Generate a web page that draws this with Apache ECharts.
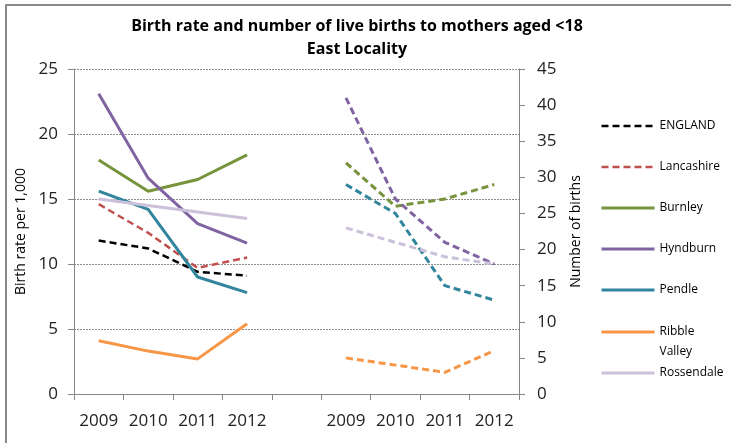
<!DOCTYPE html>
<html>
<head>
<meta charset="utf-8">
<script src="https://cdn.jsdelivr.net/npm/echarts@6/dist/echarts.min.js"></script>
<style>
html,body{margin:0;padding:0;background:#fff;}
#myBirthChart{width:731px;height:443px;}
</style>
</head>
<body>
<div id="myBirthChart"></div>
<script>
// years on each half of the axis
var years = ['2009', '2010', '2011', '2012'];

// birth rate per 1,000 (left axis)
var rateEngland = [11.8, 11.2, 9.4, 9.1];
var rateLancashire = [14.6, 12.4, 9.7, 10.5];
var rateBurnley = [18.0, 15.6, 16.5, 18.4];
var rateHyndburn = [23.1, 16.6, 13.1, 11.6];
var ratePendle = [15.6, 14.2, 9.0, 7.8];
var rateRibble = [4.1, 3.3, 2.7, 5.4];
var rateRossendale = [15.0, 14.5, 14.0, 13.5];

// number of births (right axis)
var birthsBurnley = [32, 26, 27, 29];
var birthsHyndburn = [41, 27, 21, 18];
var birthsPendle = [29, 25, 15, 13];
var birthsRibble = [5, 4, 3, 6];
var birthsRossendale = [23, 21, 19, 18];

var leftTicks = [0, 5, 10, 15, 20, 25];
var rightTicks = [0, 5, 10, 15, 20, 25, 30, 35, 40, 45];

var categories = years.concat(['']).concat(years);

function leftPart(arr){
	return arr.concat([null, null, null, null, null]);
}
function rightPart(arr){
	return [null, null, null, null, null].concat(arr);
}

var fontName = 'Open Sans';

function lineSeries(name, data, color, dashed, axis, width){
	return {
		name: name,
		type: 'line',
		yAxisIndex: axis,
		data: data,
		symbol: 'none',
		silent: true,
		connectNulls: false,
		lineStyle: {
			color: color,
			width: width,
			type: dashed ? [7, 4] : 'solid',
			cap: 'butt'
		},
		itemStyle: {color: color}
	};
}

var myBirthChart = echarts.init(document.getElementById('myBirthChart'));

var legendText = {fontFamily: fontName, fontSize: 12, color: '#000', lineHeight: 14};
// hide the symbol in the legend icon, keep only the line
var legendItem = {opacity: 0, borderWidth: 0};

var myBirthChart_option = {
	animation: false,
	title: {
		text: 'Birth rate and number of live births to mothers aged <18\nEast Locality',
		top: 10,
		left: 352,
		textAlign: 'center',
		textStyle: {
			fontFamily: fontName,
			fontSize: 16,
			fontWeight: 'bold',
			color: '#000',
			lineHeight: 23
		}
	},
	grid: {
		left: 74,
		right: 212,
		top: 69,
		bottom: 49
	},
	legend: [
		{
			orient: 'vertical',
			left: 600,
			top: 119,
			padding: 0,
			itemWidth: 53,
			itemHeight: 14,
			itemGap: 27,
			itemStyle: legendItem,
			lineStyle: {width: 3},
			textStyle: legendText,
			data: [
				{name: 'ENGLAND', lineStyle: {width: 2.5}},
				{name: 'Lancashire', lineStyle: {width: 2.5}},
				'Burnley', 'Hyndburn', 'Pendle'
			]
		},
		{
			orient: 'vertical',
			left: 600,
			top: 302,
			padding: 0,
			itemWidth: 53,
			itemHeight: 14,
			itemStyle: legendItem,
			lineStyle: {width: 3},
			formatter: function(){
				return ' \nRibble\nValley';
			},
			textStyle: {fontFamily: fontName, fontSize: 12, color: '#000', lineHeight: 20},
			data: ['Ribble Valley']
		},
		{
			orient: 'vertical',
			left: 600,
			top: 366,
			padding: 0,
			itemWidth: 53,
			itemHeight: 14,
			itemStyle: legendItem,
			lineStyle: {width: 3},
			textStyle: legendText,
			data: ['Rossendale']
		}
	],
	xAxis: {
		type: 'category',
		data: categories,
		boundaryGap: true,
		axisLine: {lineStyle: {color: '#868686', width: 1}},
		axisTick: {show: true, interval: 0, length: 6, lineStyle: {color: '#868686'}},
		axisLabel: {
			interval: 0,
			margin: 19,
			fontFamily: fontName,
			fontSize: 17,
			color: '#222'
		},
		splitLine: {show: false}
	},
	yAxis: [
		{
			type: 'value',
			min: leftTicks[0],
			max: leftTicks[leftTicks.length - 1],
			interval: 5,
			name: 'Birth rate per 1,000',
			nameLocation: 'middle',
			nameGap: 45,
			nameTextStyle: {fontFamily: fontName, fontSize: 14, color: '#000'},
			axisLine: {show: true, lineStyle: {color: '#868686'}},
			axisTick: {show: true, length: 6, lineStyle: {color: '#868686'}},
			axisLabel: {margin: 16, fontFamily: fontName, fontSize: 17, color: '#222'},
			splitLine: {
				show: true,
				lineStyle: {color: '#8c8c8c', type: [2, 1], width: 1}
			}
		},
		{
			type: 'value',
			position: 'right',
			min: rightTicks[0],
			max: rightTicks[rightTicks.length - 1],
			interval: 5,
			name: 'Number of births',
			nameLocation: 'middle',
			nameGap: 50,
			nameTextStyle: {fontFamily: fontName, fontSize: 14, color: '#000'},
			axisLine: {show: true, lineStyle: {color: '#868686'}},
			axisTick: {show: true, length: 6, lineStyle: {color: '#868686'}},
			axisLabel: {margin: 18, fontFamily: fontName, fontSize: 17, color: '#222'},
			splitLine: {show: false}
		}
	],
	graphic: {
		elements: [
			{
				type: 'rect',
				shape: {x: 6, y: 5, width: 760, height: 460},
				style: {fill: 'none', stroke: '#8a8a8a', lineWidth: 2},
				silent: true
			}
		]
	},
	series: [
		lineSeries('ENGLAND', leftPart(rateEngland), '#000000', true, 0, 2.5),
		lineSeries('Lancashire', leftPart(rateLancashire), '#c0504d', true, 0, 2.5),
		lineSeries('Burnley', leftPart(rateBurnley), '#77933c', false, 0, 3),
		lineSeries('Hyndburn', leftPart(rateHyndburn), '#8064a2', false, 0, 3),
		lineSeries('Pendle', leftPart(ratePendle), '#31859c', false, 0, 3),
		lineSeries('Ribble Valley', leftPart(rateRibble), '#f79646', false, 0, 3),
		lineSeries('Rossendale', leftPart(rateRossendale), '#ccc1da', false, 0, 3),
		lineSeries('Burnley', rightPart(birthsBurnley), '#77933c', true, 1, 3),
		lineSeries('Hyndburn', rightPart(birthsHyndburn), '#8064a2', true, 1, 3),
		lineSeries('Pendle', rightPart(birthsPendle), '#31859c', true, 1, 3),
		lineSeries('Ribble Valley', rightPart(birthsRibble), '#f79646', true, 1, 3),
		lineSeries('Rossendale', rightPart(birthsRossendale), '#ccc1da', true, 1, 3)
	]
};

myBirthChart.setOption(myBirthChart_option);
</script>
</body>
</html>
